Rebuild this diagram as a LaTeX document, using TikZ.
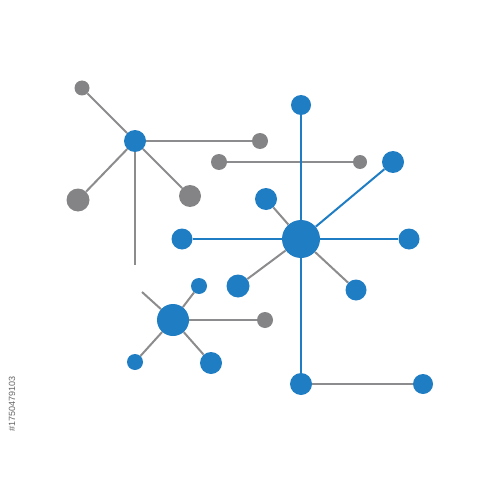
\documentclass[tikz,border=0pt]{standalone}
\usepackage{fontspec}
\setmainfont{Liberation Sans}
\definecolor{nblue}{HTML}{1F7DC4}
\definecolor{ngray}{HTML}{848486}
\definecolor{lgray}{HTML}{8C8C8E}
\begin{document}
\begin{tikzpicture}[x=1pt,y=-1pt,
  bn/.style={circle,fill=nblue,inner sep=0pt,minimum size=#1},
  gn/.style={circle,fill=ngray,inner sep=0pt,minimum size=#1},
  gl/.style={draw=lgray,line width=2pt},
  bl/.style={draw=nblue,line width=2pt}]
\useasboundingbox (0,0) rectangle (500,500);
% left gray hub
\node[bn=22pt] (h1) at (135,141) {};
\node[gn=15pt] (a1) at (82,88) {};
\node[gn=23pt] (a2) at (78,200) {};
\node[gn=22pt] (a3) at (190,196) {};
\node[gn=16pt] (a4) at (260,141) {};
\coordinate (e1) at (135,265);
% gray bar
\node[gn=16pt] (g1) at (219,162) {};
\node[gn=14pt] (g2) at (360,162) {};
% big hub
\node[bn=38pt] (h2) at (301,239) {};
\node[bn=20pt] (b1) at (301,105) {};
\node[bn=21pt] (b2) at (409,239) {};
\node[bn=21pt] (b3) at (182,239) {};
\node[bn=22pt] (b4) at (393,162) {};
\node[bn=22pt] (b5) at (266,199) {};
\node[bn=23pt] (b6) at (238,286) {};
\node[bn=21pt] (b7) at (356,290) {};
\node[bn=22pt] (b8) at (301,384) {};
\node[bn=20pt] (b9) at (423,384) {};
% small hub
\node[bn=32pt] (h3) at (173,320) {};
\node[bn=16pt] (c1) at (199,286) {};
\node[gn=16pt] (c2) at (265,320) {};
\node[bn=16pt] (c3) at (135,362) {};
\node[bn=22pt] (c4) at (211,363) {};
\coordinate (e2) at (142,292);
% edges
\draw[gl] (h1) -- (a1);
\draw[gl] (h1) -- (a2);
\draw[gl] (h1) -- (a3);
\draw[gl] (h1) -- (a4);
\draw[gl] (h1) -- (e1);
\draw[gl] (g1) -- (g2);
\draw[bl] (h2) -- (b1);
\draw[bl] (h2) -- (b2);
\draw[bl] (h2) -- (b3);
\draw[bl] (h2) -- (b4);
\draw[gl] (h2) -- (b5);
\draw[gl] (h2) -- (b6);
\draw[gl] (h2) -- (b7);
\draw[bl] (h2) -- (b8);
\draw[gl] (b8) -- (b9);
\draw[gl] (h3) -- (c1);
\draw[gl] (h3) -- (c2);
\draw[gl] (h3) -- (c3);
\draw[gl] (h3) -- (c4);
\draw[gl] (h3) -- (e2);
% stock id
\node[rotate=90,text=black!60,font=\fontsize{9}{9}\selectfont,inner sep=0pt,anchor=center] (id) at (12,404) {\#1750479103};
\end{tikzpicture}
\end{document}
